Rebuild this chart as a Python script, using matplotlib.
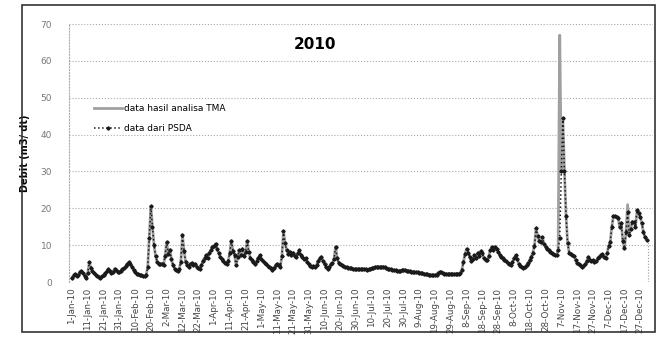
import matplotlib
matplotlib.use('Agg')
import matplotlib.pyplot as plt
import matplotlib.dates as mdates
import pandas as pd

# debit harian 2010 dari PSDA (m3/dt), per bulan
jan = [1.2, 1.8, 2.2, 1.5, 2.0, 2.8, 3.0, 2.4, 1.6, 1.0, 2.5, 5.3, 3.8, 3.0, 2.4, 2.0,
       1.7, 1.4, 1.2, 1.5, 1.9, 2.4, 2.9, 3.4, 2.9, 2.5, 2.8, 3.6, 3.2, 2.8, 2.6]
feb = [3.0, 3.4, 3.8, 4.3, 4.8, 5.3, 5.0, 4.2, 3.2, 2.6, 2.3, 2.1, 2.0, 1.8, 1.6, 1.5,
       2.0, 4.0, 12.0, 20.5, 15.0, 10.0, 7.0, 5.5, 5.0, 4.8, 5.0, 4.6]
mar = [7.0, 10.8, 7.5, 8.8, 6.2, 4.6, 3.6, 3.2, 3.0, 3.6, 5.5, 12.8, 8.5, 5.5, 4.5, 4.2,
       4.8, 5.2, 4.6, 4.9, 4.2, 3.8, 3.5, 4.5, 5.8, 6.5, 7.2, 6.6, 8.0, 8.6, 9.6]
apr = [9.8, 10.4, 9.0, 7.8, 6.8, 6.2, 5.6, 5.2, 5.0, 5.8, 8.0, 11.2, 8.5, 7.2, 4.5, 6.8,
       8.6, 7.4, 9.0, 7.0, 8.2, 11.0, 8.2, 6.5, 6.0, 5.4, 5.0, 5.6, 6.6, 7.2]
may = [6.2, 5.6, 5.2, 4.8, 4.4, 4.2, 3.8, 3.3, 3.8, 4.6, 5.0, 4.6, 4.2, 7.0, 13.8, 10.5,
       8.6, 7.6, 8.2, 7.4, 8.0, 7.0, 6.8, 7.8, 8.6, 7.2, 6.8, 6.2, 6.4, 5.4, 4.8]
jun = [4.4, 4.2, 4.4, 4.0, 4.6, 5.8, 6.4, 6.9, 5.6, 4.8, 4.0, 3.6, 4.2, 4.8, 5.2, 6.2,
       9.6, 6.4, 5.2, 4.8, 4.6, 4.4, 4.2, 4.0, 3.9, 3.8, 3.7, 3.6, 3.5, 3.5]
jul = [3.5, 3.4, 3.5, 3.6, 3.5, 3.4, 3.3, 3.4, 3.6, 3.8, 3.9, 4.1, 4.2, 4.1, 4.0, 4.1,
       4.2, 4.0, 3.8, 3.6, 3.5, 3.4, 3.3, 3.2, 3.2, 3.1, 3.0, 3.1, 3.2, 3.3, 3.2]
aug = [3.1, 3.0, 2.9, 2.8, 2.8, 2.7, 2.6, 2.6, 2.5, 2.5, 2.4, 2.3, 2.2, 2.1, 2.0, 1.9,
       1.9, 1.8, 1.9, 2.0, 2.4, 2.8, 2.6, 2.4, 2.3, 2.3, 2.2, 2.2, 2.3, 2.2, 2.2]
sep = [2.2, 2.3, 2.2, 2.4, 3.2, 5.5, 7.5, 9.0, 8.0, 6.8, 5.6, 6.2, 7.4, 6.6, 8.0, 7.0,
       8.4, 7.8, 6.4, 5.9, 5.9, 7.0, 8.6, 9.5, 8.8, 9.6, 9.0, 8.2, 7.4, 6.8]
okt = [6.4, 6.0, 5.6, 5.2, 4.8, 4.6, 5.4, 6.4, 7.2, 6.2, 5.0, 4.4, 4.0, 3.8, 4.0, 4.6,
       5.2, 6.0, 6.9, 8.0, 9.8, 14.6, 12.6, 11.2, 10.8, 12.2, 10.4, 9.6, 9.0, 8.6, 8.2]
nov = [7.8, 7.5, 7.4, 7.3, 8.8, 12.0, 30.0, 44.5, 30.0, 18.0, 10.5, 8.0, 7.6, 7.3, 7.0,
       6.0, 5.2, 4.8, 4.5, 4.2, 4.4, 4.8, 5.6, 6.8, 6.0, 5.6, 5.9, 5.4, 5.6, 6.4]
des = [6.9, 7.4, 7.5, 6.8, 6.4, 7.8, 9.8, 10.9, 15.0, 17.9, 17.8, 17.6, 17.5, 14.9, 16.1,
       11.0, 9.1, 13.6, 19.0, 12.7, 14.5, 16.4, 16.2, 14.9, 19.5, 18.6, 17.7, 15.9, 13.6,
       12.2, 11.5]

psda = jan + feb + mar + apr + may + jun + jul + aug + sep + okt + nov + des
tanggal = pd.date_range('2010-01-01', periods=len(psda), freq='D')

# hasil analisa TMA: sama dengan PSDA kecuali puncak 6-Nov dan 18-Des
tma = list(psda)
tma[309] = 67.0
tma[352] = 21.0

tick_dates = pd.date_range('2010-01-01', '2010-12-31', freq='10D')

fig = plt.figure(figsize=(6.57, 3.42), dpi=100)
ax = fig.add_axes([0.1047, 0.1754, 0.889, 0.754])

ax.plot(tanggal, tma, color='#a0a0a0', lw=2.0, label='data hasil analisa TMA', zorder=2)
ax.plot(tanggal, psda, color='#1a1a1a', lw=1.1, ls=':', marker='D', ms=1.7,
        label='data dari PSDA', zorder=3)
# garis turun ke nol di ujung data TMA
ax.vlines(tanggal[-1] + pd.Timedelta(days=1), 0, psda[-1], colors='#999999',
          linestyles=':', lw=0.8)

ax.set_ylim(0, 70)
ax.set_xlim(pd.Timestamp('2009-12-30'), pd.Timestamp('2011-01-04'))
ax.set_yticks(range(0, 71, 10))
ax.set_xticks(tick_dates)
ax.xaxis.set_major_formatter(mdates.DateFormatter('%-d-%b-%y'))
ax.tick_params(axis='x', rotation=90, labelsize=6.3, colors='#444444', length=0, pad=4)
ax.tick_params(axis='y', labelsize=6.5, colors='#777777', length=0, pad=12)
ax.grid(axis='y', ls=':', color='#aaaaaa', lw=0.8)
for s in ['top', 'right', 'bottom']:
    ax.spines[s].set_visible(False)
ax.spines['left'].set_linestyle(':')
ax.spines['left'].set_color('#aaaaaa')

ax.set_ylabel('Debit (m3/ dt)', fontsize=7, fontweight='bold', labelpad=8)
ax.text(pd.Timestamp('2010-06-04'), 64.5, '2010', fontsize=11, fontweight='bold',
        ha='center', va='center')
ax.legend(loc='upper left', bbox_to_anchor=(0.03, 0.72), frameon=False, fontsize=6.5,
          handlelength=3, labelspacing=1.2, handletextpad=0.3)

# bingkai luar
fig.patches.append(plt.Rectangle((22 / 657, 1 - 332 / 342), 633 / 657, 327 / 342,
                                 transform=fig.transFigure, fill=False,
                                 edgecolor='#333333', lw=1.2))

plt.savefig('out.png', dpi=100)
